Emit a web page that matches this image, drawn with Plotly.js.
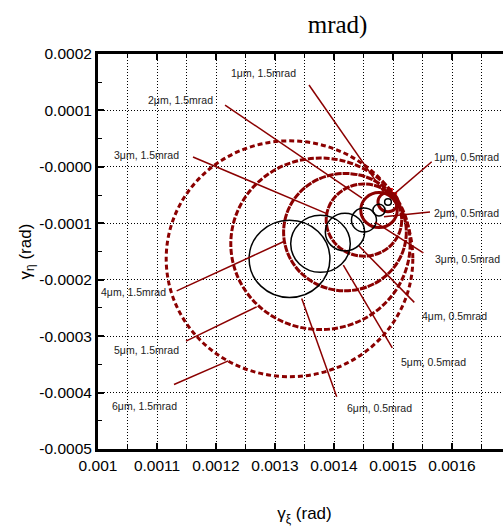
<!DOCTYPE html>
<html>
<head>
<meta charset="utf-8">
<script src="https://cdn.plot.ly/plotly-3.0.1.min.js"></script>
<style>
  html, body { margin: 0; padding: 0; overflow: hidden; background: #ffffff; }
  #chart { width: 560px; height: 529px; }
</style>
</head>
<body>
<div id="chart"></div>
<script>
// Source size of each case (micrometres)
const sizesUm = [1, 2, 3, 4, 5, 6];

// Centre of the angular spread for each source size (rad)
const centerXi  = [0.0014915, 0.0014763, 0.0014508, 0.0014186, 0.0013771, 0.0013246];
const centerEta = [-0.0000624, -0.0000766, -0.0000943, -0.0001156, -0.0001364, -0.0001629];

// Radius of the spread for 0.5 mrad and 1.5 mrad divergence (rad)
const radius05 = [0.0000057, 0.0000103, 0.0000212, 0.0000333, 0.0000505, 0.0000685];
const radius15 = [0.000017, 0.000031, 0.000064, 0.000104, 0.000152, 0.000209];

// Common reference direction (rad)
const focusXi  = [0.0014975];
const focusEta = [-0.0000473];

// Axis ticks
const xTickVals = [0.001, 0.0011, 0.0012, 0.0013, 0.0014, 0.0015, 0.0016];
const xTickText = ['0.001', '0.0011', '0.0012', '0.0013', '0.0014', '0.0015', '0.0016'];
const yTickVals = [-0.0005, -0.0004, -0.0003, -0.0002, -0.0001, 0, 0.0001, 0.0002];
const yTickText = ['-0.0005', '-0.0004', '-0.0003', '-0.0002', '-0.0001', '-0.0000', '0.0001', '0.0002'];

const DARK_RED = '#8b0000';
const labelFont = { family: 'Liberation Sans, Arial, sans-serif', size: 10.5, color: '#222222' };

// Callout placement: label anchor and leader line (axis units)
const callouts = [
  { i: 0, div: '1.5mrad', at: [0.0012797, 0.0001668], anchor: 'center', from: [0.0013576, 0.0001450], to: [0.0014864, -0.0000482] },
  { i: 1, div: '1.5mrad', at: [0.0011390, 0.0001184], anchor: 'center', from: [0.0012153, 0.0001096], to: [0.0014475, -0.0000553] },
  { i: 2, div: '1.5mrad', at: [0.0010822, 0.0000209], anchor: 'center', from: [0.0011610, 0.0000174], to: [0.0013898, -0.0000837] },
  { i: 3, div: '1.5mrad', at: [0.0010610, -0.0002215], anchor: 'center', from: [0.0011334, -0.0002197], to: [0.0013141, -0.0001328] },
  { i: 4, div: '1.5mrad', at: [0.0010822, -0.0003248], anchor: 'center', from: [0.0011492, -0.0003089], to: [0.0012690, -0.0002480] },
  { i: 5, div: '1.5mrad', at: [0.0010780, -0.0004241], anchor: 'center', from: [0.0011288, -0.0003856], to: [0.0012208, -0.0003438] },
  { i: 0, div: '0.5mrad', at: [0.0015661, 0.0000179], anchor: 'left', from: [0.0015656, 0.0000090], to: [0.0014978, -0.0000518] },
  { i: 1, div: '0.5mrad', at: [0.0015661, -0.0000814], anchor: 'left', from: [0.0015627, -0.0000801], to: [0.0014847, -0.0000885] },
  { i: 2, div: '0.5mrad', at: [0.0015678, -0.0001635], anchor: 'left', from: [0.0015514, -0.0001523], to: [0.0014695, -0.0000979] },
  { i: 3, div: '0.5mrad', at: [0.0015458, -0.0002645], anchor: 'left', from: [0.0015361, -0.0002402], to: [0.0014424, -0.0001404] },
  { i: 4, div: '0.5mrad', at: [0.0015102, -0.0003461], anchor: 'left', from: [0.0014988, -0.0003207], to: [0.0014158, -0.0001741] },
  { i: 5, div: '0.5mrad', at: [0.0014186, -0.0004277], anchor: 'left', from: [0.0014046, -0.0004076], to: [0.0013453, -0.0002332] }
];

// Line styles of the wide-divergence rings, smallest to largest
const ringDash  = ['solid', 'solid', '7px,1px', '7px,1px', '6px,2px', '5px,3px'];
const ringWidth = [3, 3, 3, 3, 3, 3];

const shapes = [];

// 1.5 mrad rings
sizesUm.forEach((s, k) => {
  shapes.push({
    type: 'circle', xref: 'x', yref: 'y', layer: 'above',
    x0: centerXi[k] - radius15[k], x1: centerXi[k] + radius15[k],
    y0: centerEta[k] - radius15[k], y1: centerEta[k] + radius15[k],
    line: { color: DARK_RED, width: ringWidth[k], dash: ringDash[k] }
  });
});

// 0.5 mrad rings
sizesUm.forEach((s, k) => {
  shapes.push({
    type: 'circle', xref: 'x', yref: 'y', layer: 'above',
    x0: centerXi[k] - radius05[k], x1: centerXi[k] + radius05[k],
    y0: centerEta[k] - radius05[k], y1: centerEta[k] + radius05[k],
    line: { color: '#000000', width: 1.5 }
  });
});

// Leader lines
callouts.forEach(c => {
  shapes.push({
    type: 'line', xref: 'x', yref: 'y', layer: 'above',
    x0: c.from[0], y0: c.from[1], x1: c.to[0], y1: c.to[1],
    line: { color: DARK_RED, width: 1.5 }
  });
});

const annotations = callouts.map(c => ({
  xref: 'x', yref: 'y', x: c.at[0], y: c.at[1],
  text: sizesUm[c.i] + '\u03bcm, ' + c.div,
  showarrow: false, xanchor: c.anchor, yanchor: 'middle',
  font: labelFont
}));

const traces = [{
  type: 'scatter', mode: 'markers',
  x: focusXi, y: focusEta,
  marker: { symbol: 'cross-thin', size: 8, color: '#ff0000', line: { color: '#ff0000', width: 2.5 } },
  hoverinfo: 'skip', showlegend: false, cliponaxis: false
}];

const gridDash = '1px,2px';
const tickFont = { family: 'Liberation Sans, Arial, sans-serif', size: 15.5, color: '#000000' };
const titleFont = { family: 'Liberation Sans, Arial, sans-serif', size: 17, color: '#000000' };

const layout = {
  width: 560, height: 529,
  margin: { l: 98, r: 49, t: 54, b: 80, pad: 0 },
  paper_bgcolor: '#ffffff', plot_bgcolor: '#ffffff',
  showlegend: false,
  title: {
    text: 'mrad)',
    font: { family: 'Liberation Serif, Times New Roman, serif', size: 25, color: '#000000', weight: 'normal' },
    xref: 'paper', x: 0.58, xanchor: 'center',
    yref: 'container', y: 0.955, yanchor: 'middle'
  },
  xaxis: {
    range: [0.001, 0.0017],
    tickmode: 'array', tickvals: xTickVals, ticktext: xTickText,
    ticks: 'inside', ticklen: 6, tickwidth: 2, tickcolor: '#000000',
    tickfont: tickFont,
    showline: true, linewidth: 3, linecolor: '#000000', mirror: 'ticks',
    showgrid: true, gridcolor: '#000000', gridwidth: 1, griddash: gridDash,
    minor: { tick0: 0.001, dtick: 0.00005, ticks: 'inside', ticklen: 4, tickwidth: 1, tickcolor: '#000000',
             showgrid: true, gridcolor: '#000000', gridwidth: 1, griddash: gridDash },
    zeroline: false,
    title: { text: '\u03b3<sub>\u03be</sub> (rad)', font: titleFont, standoff: 35 }
  },
  yaxis: {
    range: [-0.0005, 0.0002],
    tickmode: 'array', tickvals: yTickVals, ticktext: yTickText,
    ticks: 'inside', ticklen: 6, tickwidth: 2, tickcolor: '#000000',
    tickfont: tickFont,
    showline: true, linewidth: 3, linecolor: '#000000', mirror: 'ticks',
    showgrid: true, gridcolor: '#000000', gridwidth: 1, griddash: gridDash,
    minor: { tick0: -0.0005, dtick: 0.00005, ticks: 'inside', ticklen: 4, tickwidth: 1, tickcolor: '#000000',
             showgrid: false },
    zeroline: false,
    title: { text: '\u03b3<sub>\u03b7</sub> (rad)', font: titleFont, standoff: 4 }
  },
  shapes: shapes,
  annotations: annotations
};

Plotly.newPlot('chart', traces, layout, { staticPlot: true, displayModeBar: false });
</script>
</body>
</html>
